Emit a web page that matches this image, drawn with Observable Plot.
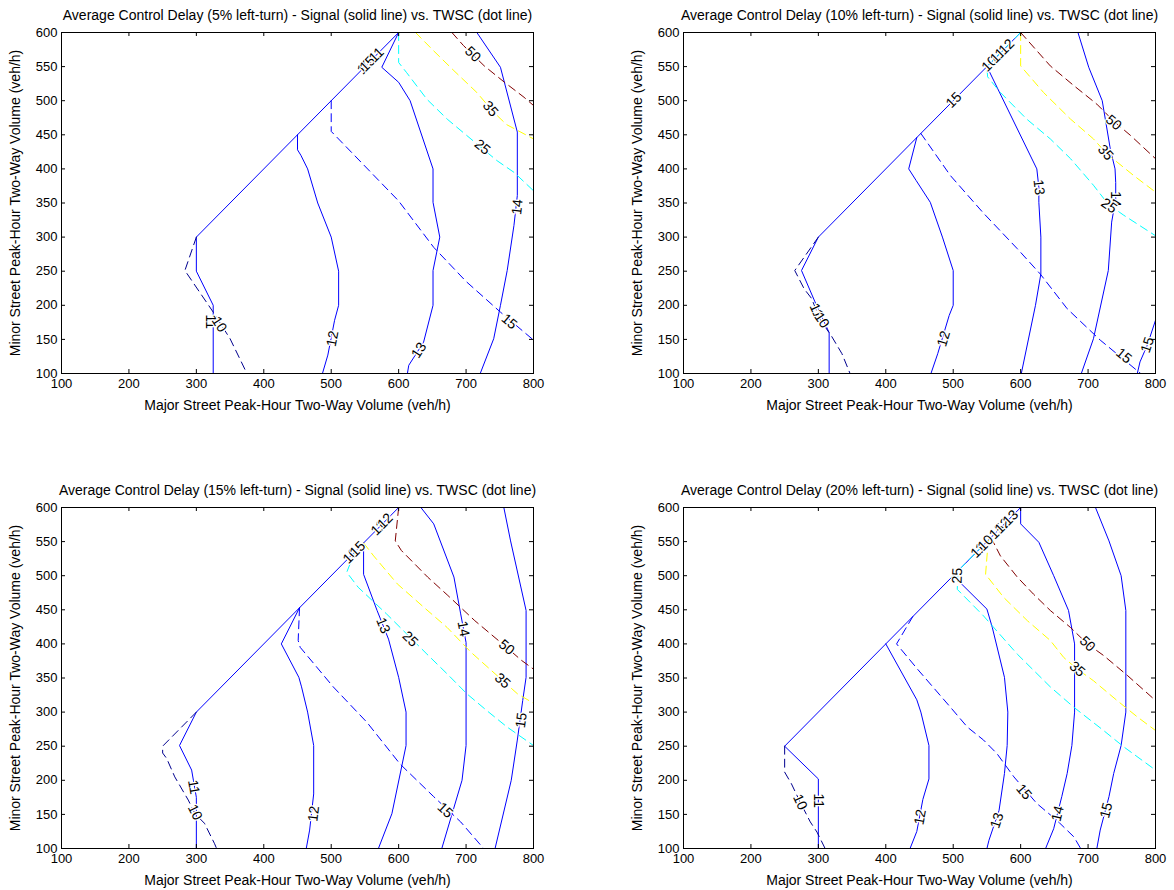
<!DOCTYPE html>
<html>
<head>
<meta charset="utf-8">
<script src="https://cdn.jsdelivr.net/npm/d3@7"></script>
<script src="https://cdn.jsdelivr.net/npm/@observablehq/plot@0.6"></script>
<style>
  html, body { margin: 0; padding: 0; background: #fff; overflow: hidden; }
  #wrap { position: relative; width: 1174px; height: 890px; }
  .panel { position: absolute; }
</style>
</head>
<body>
<div id="wrap"></div>
<script>
// ---------- tick labels & texts ----------
const xTicks = [100, 200, 300, 400, 500, 600, 700, 800];
const yTicks = [100, 150, 200, 250, 300, 350, 400, 450, 500, 550, 600];
const xLabel = "Major Street Peak-Hour Two-Way Volume (veh/h)";
const yLabel = "Minor Street Peak-Hour Two-Way Volume (veh/h)";
const titles = [
  "Average Control Delay (5% left-turn) - Signal (solid line) vs. TWSC (dot line)",
  "Average Control Delay (10% left-turn) - Signal (solid line) vs. TWSC (dot line)",
  "Average Control Delay (15% left-turn) - Signal (solid line) vs. TWSC (dot line)",
  "Average Control Delay (20% left-turn) - Signal (solid line) vs. TWSC (dot line)"
];

// ---------- 5% left-turn ----------
const signal5 = [
  {level: 11, pts: [[325,100],[325,200],[300,250],[300,300],[600,600]]},
  {level: 12, pts: [[450,450],[450,428],[455,420],[465,400],[480,350],[500,300],[511,250],[511,200],[505,178],[495,127],[487,100]]},
  {level: 13, pts: [[600,600],[575,549],[600,527],[617,500],[651,400],[651,351],[661,300],[651,251],[651,200],[637,146],[615,112],[613,100]]},
  {level: 14, pts: [[716,600],[751,549],[776,454],[776,361],[771,317],[761,251],[751,200],[741,151],[721,100]]}
];
const twsc5 = [
  {level: 10, pts: [[300,300],[283,251],[325,190],[350,151],[375,100]]},
  {level: 15, pts: [[500,500],[500,455],[600,353],[652,285],[700,235],[751,190],[800,149]]},
  {level: 25, pts: [[600,600],[600,556],[612,541],[642,502],[672,473],[701,449],[746,412],[771,395],[800,368]]},
  {level: 35, pts: [[625,600],[652,573],[682,544],[716,512],[740,484],[760,465],[800,444]]},
  {level: 50, pts: [[679,600],[696,581],[727,551],[757,527],[786,505],[800,493]]}
];
const labels5 = [
  ["s",11,"11",321,176], ["s",12,"12",502,151], ["s",13,"13",630,134], ["s",14,"14",776,344],
  ["s",11,"10",550,550], ["s",11,"15",554,554], ["s",11,"11",567,567],
  ["t",10,"10",334,172], ["t",15,"15",764,176], ["t",25,"25",724,432], ["t",35,"35",736,488], ["t",50,"50",710,568]
];

// ---------- 10% left-turn ----------
const signal10 = [
  {level: 11, pts: [[316,100],[316,160],[295,205],[275,251],[300,300],[600,600]]},
  {level: 12, pts: [[446,446],[434,400],[445,383],[466,351],[484,300],[500,251],[500,200],[494,185],[477,129],[467,100]]},
  {level: 13, pts: [[550,550],[624,400],[627,373],[627,351],[630,300],[630,246],[622,200],[601,100]]},
  {level: 14, pts: [[685,600],[701,549],[721,500],[733,429],[740,400],[741,380],[741,356],[735,322],[730,251],[708,151],[690,100]]},
  {level: 15, pts: [[800,178],[788,142],[777,117],[773,100]]}
];
const twsc10 = [
  {level: 10, pts: [[300,300],[265,251],[279,224],[290,210],[302,180],[320,154],[335,129],[347,100]]},
  {level: 15, pts: [[452,452],[496,390],[545,335],[595,283],[629,246],[669,195],[718,149],[778,100]]},
  {level: 25, pts: [[600,600],[550,550],[551,535],[570,512],[609,473],[644,444],[674,415],[708,376],[730,348],[753,332],[800,302]]},
  {level: 35, pts: [[600,600],[600,551],[634,512],[674,473],[708,444],[726,424],[743,410],[768,390],[800,366]]},
  {level: 50, pts: [[600,600],[644,551],[679,522],[713,495],[738,470],[763,449],[800,415]]}
];
const labels10 = [
  ["s",11,"11",297,192], ["s",12,"12",486,151], ["s",13,"13",627,373], ["s",14,"14",741,356], ["s",15,"15",788,142],
  ["s",11,"15",501,501], ["s",11,"10",554,554], ["s",11,"11",566,566], ["s",11,"12",579,579],
  ["t",10,"10",305,178], ["t",15,"15",753,126], ["t",25,"25",731,346], ["t",35,"35",726,424], ["t",50,"50",738,468]
];

// ---------- 15% left-turn ----------
const signal15 = [
  {level: 11, pts: [[300,100],[300,175],[293,215],[275,251],[300,300],[600,600]]},
  {level: 12, pts: [[453,453],[426,400],[452,351],[456,337],[465,300],[474,251],[474,180],[468,127],[463,100]]},
  {level: 13, pts: [[548,548],[548,502],[568,449],[585,407],[600,351],[611,300],[611,251],[590,151],[570,100]]},
  {level: 14, pts: [[633,600],[652,576],[682,498],[692,444],[700,402],[700,251],[694,200],[664,100]]},
  {level: 15, pts: [[756,600],[766,551],[789,449],[789,351],[784,317],[776,259],[767,200],[743,100]]}
];
const twsc15 = [
  {level: 10, pts: [[300,300],[250,250],[250,240],[256,232],[268,205],[288,171],[298,151],[312,137],[327,107],[330,100]]},
  {level: 15, pts: [[453,453],[451,405],[454,395],[503,337],[553,285],[602,224],[652,176],[692,139],[726,100]]},
  {level: 25, pts: [[535,535],[523,505],[540,483],[582,444],[642,385],[672,356],[701,327],[731,302],[761,278],[800,251]]},
  {level: 35, pts: [[548,548],[563,529],[598,488],[637,454],[672,424],[707,388],[776,327],[800,313]]},
  {level: 50, pts: [[600,600],[595,551],[604,537],[643,498],[673,471],[713,434],[760,395],[782,376],[800,363]]}
];
const labels15 = [
  ["s",11,"11",296,190], ["s",12,"12",474,151], ["s",13,"13",577,427], ["s",14,"14",696,422], ["s",15,"15",782,288],
  ["s",11,"10",529,529], ["s",11,"15",539,539], ["s",11,"11",570,570], ["s",11,"12",580,580],
  ["t",10,"10",298,153], ["t",15,"15",669,156], ["t",25,"25",617,407], ["t",35,"35",754,346], ["t",50,"50",760,395]
];

// ---------- 20% left-turn ----------
const signal20 = [
  {level: 11, pts: [[300,100],[300,202],[250,250],[600,600]]},
  {level: 12, pts: [[400,400],[446,318],[452,300],[464,251],[464,202],[455,172],[446,125],[436,100]]},
  {level: 13, pts: [[500,500],[550,451],[558,424],[576,351],[581,300],[580,251],[576,210],[568,156],[553,112],[550,100]]},
  {level: 14, pts: [[600,600],[600,576],[627,549],[649,500],[671,449],[680,400],[680,300],[676,251],[669,210],[661,176],[649,129],[637,100]]},
  {level: 15, pts: [[711,600],[731,551],[749,500],[756,449],[756,300],[749,251],[738,210],[731,176],[718,127],[713,100]]}
];
const twsc20 = [
  {level: 10, pts: [[250,250],[250,212],[260,195],[273,168],[288,139],[298,124],[310,100]]},
  {level: 15, pts: [[440,440],[416,400],[447,363],[496,307],[521,278],[545,259],[565,239],[590,205],[624,166],[654,141],[679,117],[689,100]]},
  {level: 25, pts: [[545,545],[507,507],[506,480],[545,441],[595,385],[644,337],[679,307],[723,273],[753,249],[800,215]]},
  {level: 35, pts: [[552,552],[548,502],[575,468],[610,434],[644,405],[664,380],[684,363],[708,346],[743,317],[773,293],[800,273]]},
  {level: 50, pts: [[556,556],[570,529],[595,498],[619,473],[644,449],[674,424],[699,400],[723,383],[758,354],[783,332],[800,317]]}
];
const labels20 = [
  ["s",11,"11",300,170], ["s",12,"12",451,146], ["s",13,"13",565,141], ["s",14,"14",655,151], ["s",15,"15",727,156],
  ["s",11,"11",537,537], ["s",11,"10",548,548], ["s",11,"15",565,565], ["s",11,"12",573,573], ["s",11,"13",585,585],
  ["t",10,"10",273,168], ["t",15,"15",605,183], ["t",25,"25",506,500], ["t",35,"35",684,363], ["t",50,"50",699,400]
];

// ---------- styles ----------
const twscColors = {10: "#00008f", 15: "#0000ff", 25: "#00ffff", 35: "#ffff00", 50: "#800000"};
const signalColor = "#0000ff";
const FONT = "'Liberation Sans', Arial, Helvetica, sans-serif";
const W = 552, H = 415, ML = 61, MR = 19, MT = 32, MB = 42;
const PW = W - ML - MR, PH = H - MT - MB;
const TICK = 4;

function angleFor(pts, x, y) {
  const kx = PW / 700, ky = PH / 500;
  let best = Infinity, ang = 0;
  for (let i = 0; i < pts.length - 1; i++) {
    const ax = pts[i][0] * kx, ay = -pts[i][1] * ky;
    const bx = pts[i + 1][0] * kx, by = -pts[i + 1][1] * ky;
    const px = x * kx, py = -y * ky;
    const dx = bx - ax, dy = by - ay, L = dx * dx + dy * dy;
    let t = L ? ((px - ax) * dx + (py - ay) * dy) / L : 0;
    t = Math.max(0, Math.min(1, t));
    const d = Math.hypot(ax + t * dx - px, ay + t * dy - py);
    if (d < best) { best = d; ang = Math.atan2(dy, dx) * 180 / Math.PI; }
  }
  if (ang > 90) ang -= 180;
  if (ang <= -90) ang += 180;
  return ang;
}

function panel(title, signal, twsc, labels) {
  const sigRows = signal.flatMap(c => c.pts.map(([x, y]) => ({id: "s" + c.level, x, y})));
  const twRows = twsc.flatMap(c => c.pts.map(([x, y]) => ({id: "t" + c.level, col: twscColors[c.level], x, y})));
  const labRows = labels.map(([kind, level, text, x, y]) => {
    const src = (kind === "s" ? signal : twsc).find(c => c.level === level);
    return {text, x, y, rotate: angleFor(src.pts, x, y)};
  });
  return Plot.plot({
    width: W, height: H,
    marginLeft: ML, marginRight: MR, marginTop: MT, marginBottom: MB,
    x: {domain: [100, 800], label: null},
    y: {domain: [100, 600], label: null},
    color: {type: "identity"},
    style: {fontFamily: FONT, fontSize: "13px", background: "white", color: "black", overflow: "visible"},
    marks: [
      Plot.line(sigRows, {x: "x", y: "y", z: "id", stroke: signalColor, strokeWidth: 1}),
      Plot.line(twRows, {x: "x", y: "y", z: "id", stroke: "col", strokeWidth: 1, strokeDasharray: "8,5"}),
      Plot.text(labRows, {x: "x", y: "y", text: "text", rotate: "rotate", fontSize: 14, fill: "black", stroke: "white", strokeWidth: 2.5}),
      Plot.frame({stroke: "black", strokeWidth: 1}),
      Plot.tickX(xTicks, {x: d => d, insetTop: PH - TICK, stroke: "black"}),
      Plot.tickX(xTicks, {x: d => d, insetBottom: PH - TICK, stroke: "black"}),
      Plot.tickY(yTicks, {y: d => d, insetRight: PW - TICK, stroke: "black"}),
      Plot.tickY(yTicks, {y: d => d, insetLeft: PW - TICK, stroke: "black"}),
      Plot.axisX(xTicks, {anchor: "bottom", tickSize: 0, tickPadding: 5, label: null, fontSize: 13, tickFormat: d => String(d)}),
      Plot.axisY(yTicks, {anchor: "left", tickSize: 0, tickPadding: 4, label: null, fontSize: 13, tickFormat: d => String(d)}),
      Plot.text([title], {text: d => d, frameAnchor: "top", textAnchor: "middle", lineAnchor: "middle", dy: -17, fontSize: 14, fill: "black"}),
      Plot.text([xLabel], {text: d => d, frameAnchor: "bottom", textAnchor: "middle", lineAnchor: "middle", dy: 32, fontSize: 14, fill: "black"}),
      Plot.text([yLabel], {text: d => d, frameAnchor: "left", textAnchor: "middle", lineAnchor: "middle", dx: -46, rotate: -90, fontSize: 14, fill: "black"})
    ]
  });
}

const wrap = document.getElementById("wrap");
const specs = [
  [titles[0], signal5, twsc5, labels5, 0, 0],
  [titles[1], signal10, twsc10, labels10, 622, 0],
  [titles[2], signal15, twsc15, labels15, 0, 475],
  [titles[3], signal20, twsc20, labels20, 622, 475]
];
for (const [t, s, tw, lab, left, top] of specs) {
  const div = document.createElement("div");
  div.className = "panel";
  div.style.left = left + "px";
  div.style.top = top + "px";
  div.appendChild(panel(t, s, tw, lab));
  wrap.appendChild(div);
}
</script>
</body>
</html>
